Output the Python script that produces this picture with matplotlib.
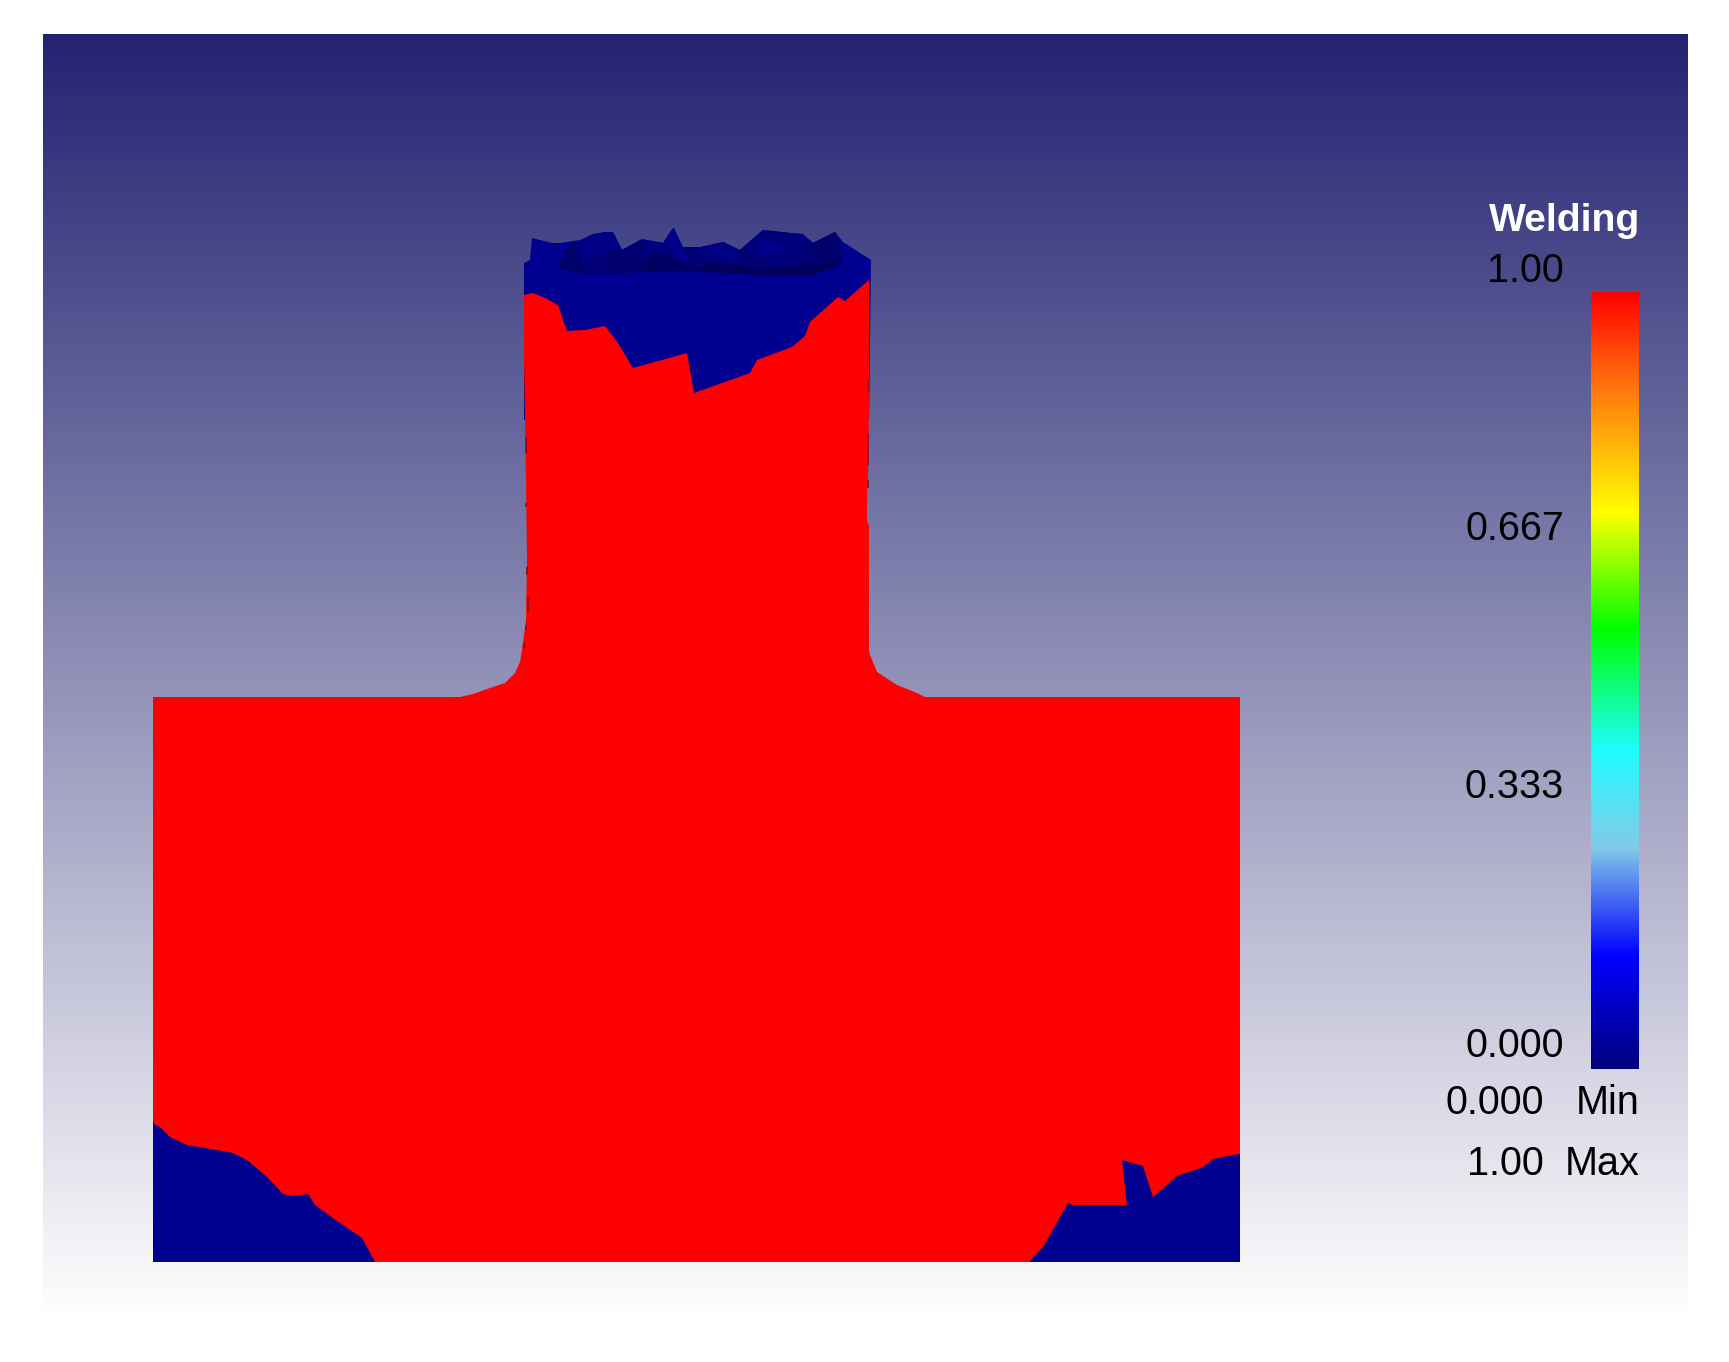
import numpy as np
import matplotlib.pyplot as plt
from matplotlib.colors import LinearSegmentedColormap

plt.rcParams['font.family'] = ['Liberation Sans', 'DejaVu Sans']

# pixel positions (x, y from the top left)
red_x = [153, 153, 460, 473, 490, 505, 515, 520, 522, 526, 527, 526, 525, 524, 524, 533, 545, 558, 567, 585, 605, 618, 633, 687, 694, 750, 757, 792, 805, 810, 838, 845, 869, 869, 868, 867, 867, 869, 869, 870, 873, 877, 897, 917, 925, 1240, 1240]
red_y = [1262, 697, 697, 694, 688, 683, 673, 662, 650, 620, 560, 480, 420, 360, 295, 293, 298, 305, 331, 330, 326, 343, 368, 353, 393, 373, 360, 347, 336, 322, 297, 301, 280, 400, 480, 490, 522, 525, 650, 655, 662, 672, 685, 693, 697, 697, 1262]

top_x = [524, 524, 530, 532, 552, 560, 580, 603, 612, 622, 642, 665, 674, 683, 703, 723, 740, 763, 777, 803, 813, 835, 843, 871, 869]
top_y = [420, 263, 260, 238, 243, 243, 240, 232, 232, 250, 239, 243, 228, 247, 247, 242, 250, 230, 232, 234, 243, 232, 242, 260, 420]

ring_x = [560, 570, 575, 593, 613, 622, 640, 663, 673, 682, 700, 723, 740, 763, 800, 813, 835, 840, 842, 813, 757, 707, 640, 620, 587, 560]
ring_y = [265, 245, 243, 234, 232, 250, 240, 243, 228, 247, 247, 242, 250, 230, 234, 243, 232, 243, 260, 275, 275, 272, 271, 274, 274, 268]

# facets of the top cap
facet_a_x = [560, 570, 575, 583, 587, 560]
facet_a_y = [263, 245, 243, 263, 273, 267]
facet_b_x = [575, 593, 613, 622, 607, 583]
facet_b_y = [243, 234, 232, 250, 253, 263]
facet_d_x = [622, 640, 643, 640, 607]
facet_d_y = [252, 240, 262, 267, 253]
facet_e_x = [643, 663, 682, 653, 643]
facet_e_y = [240, 243, 262, 253, 262]
facet_f_x = [663, 673, 682, 690, 682]
facet_f_y = [243, 228, 247, 262, 262]
facet_g_x = [643, 653, 682, 697, 650]
facet_g_y = [262, 253, 262, 265, 270]
facet_h_x = [700, 723, 740, 737, 720, 700]
facet_h_y = [248, 242, 252, 263, 258, 260]
facet_i_x = [740, 763, 800, 813, 800, 767, 757]
facet_i_y = [250, 230, 234, 243, 263, 263, 257]
facet_j_x = [763, 787, 770, 757]
facet_j_y = [240, 250, 255, 250]
facet_k_x = [800, 813, 835, 840, 840, 813]
facet_k_y = [263, 243, 232, 243, 263, 275]
band_x = [560, 587, 620, 640, 700, 707, 737, 757, 800, 833, 842, 840, 813, 757, 707, 640, 620, 587, 560]
band_y = [266, 273, 273, 270, 270, 265, 265, 270, 267, 263, 258, 265, 275, 275, 272, 271, 274, 274, 268]

left_x = [153, 153, 155, 160, 170, 187, 205, 233, 247, 267, 283, 292, 308, 315, 340, 362, 375]
left_y = [1262, 1121, 1125, 1127, 1137, 1145, 1148, 1153, 1160, 1177, 1194, 1196, 1194, 1205, 1223, 1238, 1262]
right_x = [1029, 1043, 1068, 1073, 1127, 1122, 1143, 1153, 1177, 1203, 1213, 1232, 1240, 1240]
right_y = [1262, 1247, 1203, 1205, 1205, 1160, 1166, 1197, 1176, 1167, 1159, 1155, 1154, 1262]

# dark flecks along the neck edge
fleck_x = [526, 526, 527, 528, 526, 524, 868, 868, 868]
fleck_top = [437, 503, 567, 597, 625, 643, 380, 433, 480]
fleck_bot = [453, 507, 575, 612, 630, 648, 392, 465, 488]

# colour scale stops
scale_pos = [0.0, 0.144, 0.285, 0.41, 0.567, 0.716, 0.887, 1.0]
scale_col = ['#00007d', '#0000ff', '#82cbe8', '#1ffcff', '#00ff00', '#ffff00', '#ff6e0f', '#ff0000']
tick_labels = ['1.00', '0.667', '0.333', '0.000']
tick_y = [282, 540, 798, 1057]

W, H = 1729, 1362
fig = plt.figure(figsize=(W / 100, H / 100), dpi=100, facecolor='white')
ax = fig.add_axes([0, 0, 1, 1])

# background gradient
bg_cmap = LinearSegmentedColormap.from_list('bg', ['#232372', '#ffffff'])
ax.imshow(np.linspace(0, 1, 512).reshape(-1, 1), cmap=bg_cmap, extent=[43, 1688, 1320, 34],
          aspect='auto', zorder=0, interpolation='bilinear')

# model
navy = '#000090'
ax.fill(top_x, top_y, color=navy, lw=0, zorder=1)
ax.fill(ring_x, ring_y, color='#000070', lw=0, zorder=2)
ax.fill(facet_a_x, facet_a_y, color='#00006a', lw=0, zorder=3)
ax.fill(facet_b_x, facet_b_y, color='#000084', lw=0, zorder=3)
ax.fill(facet_d_x, facet_d_y, color='#000070', lw=0, zorder=3)
ax.fill(facet_e_x, facet_e_y, color='#00007c', lw=0, zorder=3)
ax.fill(facet_f_x, facet_f_y, color='#00008a', lw=0, zorder=3)
ax.fill(facet_g_x, facet_g_y, color='#000060', lw=0, zorder=3)
ax.fill(facet_h_x, facet_h_y, color='#000085', lw=0, zorder=3)
ax.fill(facet_i_x, facet_i_y, color='#00007c', lw=0, zorder=3)
ax.fill(facet_j_x, facet_j_y, color='#00008a', lw=0, zorder=4)
ax.fill(facet_k_x, facet_k_y, color='#00006c', lw=0, zorder=3)
ax.fill(band_x, band_y, color='#000058', lw=0, zorder=4)
ax.fill(red_x, red_y, color='#ff0000', lw=0, zorder=5)
ax.fill(left_x, left_y, color=navy, lw=0, zorder=6)
ax.fill(right_x, right_y, color=navy, lw=0, zorder=6)
ax.vlines(fleck_x, fleck_top, fleck_bot, color='#8a0a1e', lw=1.2, zorder=7)

# colour bar
cb_cmap = LinearSegmentedColormap.from_list('cb', list(zip(scale_pos, scale_col)))
ax.imshow(np.linspace(1, 0, 512).reshape(-1, 1), cmap=cb_cmap, extent=[1591, 1639, 1069, 292],
          aspect='auto', zorder=2, interpolation='bilinear')

ax.set_xlim(0, W)
ax.set_ylim(H, 0)
ax.axis('off')

fs = 28.5
ax.text(1640, 231, 'Welding', color='white', fontsize=28.2, fontweight='bold', ha='right', va='baseline')
for lab, y in zip(tick_labels, tick_y):
    ax.text(1564, y, lab, color='black', fontsize=fs, ha='right', va='baseline')
ax.text(1544, 1114, '0.000', color='black', fontsize=fs, ha='right', va='baseline')
ax.text(1640, 1114, 'Min', color='black', fontsize=fs, ha='right', va='baseline')
ax.text(1544, 1175, '1.00', color='black', fontsize=fs, ha='right', va='baseline')
ax.text(1640, 1175, 'Max', color='black', fontsize=fs, ha='right', va='baseline')

fig.savefig('out.png', dpi=100)
